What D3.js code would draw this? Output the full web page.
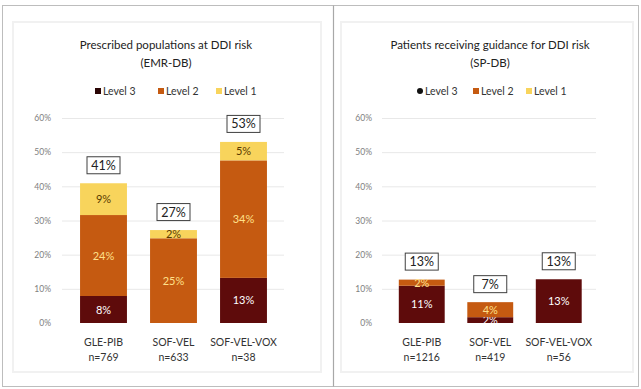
<!DOCTYPE html>
<html><head><meta charset="utf-8">
<script src="https://cdn.jsdelivr.net/npm/d3@7/dist/d3.min.js"></script>
<style>
body{margin:0;background:#fff;}
svg{display:block;font-family:Lato,"Open Sans",sans-serif;}
</style></head><body>
<svg id="c" width="641" height="389"></svg>
<script>
const categoriesA = ["GLE-PIB", "SOF-VEL", "SOF-VEL-VOX"];
const nA = ["n=769", "n=633", "n=38"];
const level3A = [7.9, 0, 13.2];
const level2A = [23.7, 24.8, 34.4];
const level1A = [9.3, 2.4, 5.4];
const totalsA = [41, 27, 53];

const categoriesB = ["GLE-PIB", "SOF-VEL", "SOF-VEL-VOX"];
const nB = ["n=1216", "n=419", "n=56"];
const level3B = [10.9, 1.7, 12.8];
const level2B = [1.8, 4.4, 0];
const level1B = [0, 0, 0];
const totalsB = [13, 7, 13];

const yTicks = [0, 10, 20, 30, 40, 50, 60];
const levelNames = ["Level 3", "Level 2", "Level 1"];
const colors = {"Level 3": "#5e0b0b", "Level 2": "#c55a11", "Level 1": "#f8d45c"};
const labelColors = {"Level 3": "#ffffff", "Level 2": "#ffe08a", "Level 1": "#5a3a00"};

const svg = d3.select("#c");
// outer frame and divider
svg.append("rect").attr("x", 2.5).attr("y", 5.5).attr("width", 636).attr("height", 381)
  .attr("fill", "none").attr("stroke", "#bdbdbd").attr("stroke-width", 1);
svg.append("line").attr("x1", 333.5).attr("x2", 333.5).attr("y1", 5.5).attr("y2", 386.5)
  .attr("stroke", "#a8a8a8").attr("stroke-width", 1.2);

function panel(o) {
  const g = svg.append("g");
  // faint inner shadow box
  g.append("rect").attr("x", o.box[0]).attr("y", o.box[1]).attr("width", o.box[2]).attr("height", o.box[3])
    .attr("fill", "none").attr("stroke", "#f1f1f1").attr("stroke-width", 2);
  g.append("text").attr("x", o.cx).attr("y", 49).attr("text-anchor", "middle")
    .attr("font-size", 11.5).attr("fill", "#222").text(o.title);
  g.append("text").attr("x", o.cx).attr("y", 67).attr("text-anchor", "middle")
    .attr("font-size", 11.5).attr("fill", "#222").text(o.sub);

  const y = d3.scaleLinear().domain([0, 60]).range([323, 118]);
  const x = d3.scaleBand().domain(o.cats).range(o.xr).paddingInner(0.33).paddingOuter(0.165);

  // grid
  g.append("g").selectAll("line").data(yTicks.filter(d => d > 0)).join("line")
    .attr("x1", o.gx[0]).attr("x2", o.gx[1]).attr("y1", d => y(d) + 0.5).attr("y2", d => y(d) + 0.5)
    .attr("stroke", "#e8e8e8").attr("stroke-width", 1);

  const yAxis = g.append("g").attr("transform", `translate(${o.axisX},0)`)
    .call(d3.axisLeft(y).tickValues(yTicks).tickFormat(d => d + "%").tickSize(0).tickPadding(0));
  yAxis.select(".domain").remove();
  yAxis.selectAll("text").attr("font-size", 8.5).attr("fill", "#808080").attr("font-family", "Lato,'Open Sans',sans-serif");

  const rows = o.cats.map((c, i) => ({cat: c, "Level 3": o.l3[i], "Level 2": o.l2[i], "Level 1": o.l1[i]}));
  const stack = d3.stack().keys(levelNames)(rows);
  const bw = x.bandwidth();
  stack.forEach(s => {
    const key = s.key;
    const gg = g.append("g");
    gg.selectAll("rect").data(s).join("rect")
      .attr("x", d => x(d.data.cat)).attr("width", bw)
      .attr("y", d => y(d[1])).attr("height", d => y(d[0]) - y(d[1]))
      .attr("fill", colors[key]);
    gg.selectAll("text").data(s.filter(d => d[1] - d[0] > 0.5)).join("text")
      .attr("x", d => x(d.data.cat) + bw / 2)
      .attr("y", d => (y(d[0]) + y(d[1])) / 2 + 4)
      .attr("text-anchor", "middle").attr("font-size", 11)
      .attr("fill", labelColors[key])
      .text(d => Math.round(d[1] - d[0]) + "%");
  });

  // totals boxes
  const tg = g.append("g");
  rows.forEach((r, i) => {
    const top = r["Level 3"] + r["Level 2"] + r["Level 1"];
    const cx = x(r.cat) + bw / 2, cy = y(top) - 18;
    tg.append("rect").attr("x", cx - 16.5).attr("y", cy - 8.5).attr("width", 33).attr("height", 17)
      .attr("fill", "#fff").attr("stroke", "#404040").attr("stroke-width", 1);
    tg.append("text").attr("x", cx).attr("y", cy + 4.5).attr("text-anchor", "middle")
      .attr("font-size", 12.5).attr("fill", "#222").text(o.totals[i] + "%");
  });

  // categories
  const cg = g.append("g");
  o.cats.forEach((c, i) => {
    const cx = x(c) + bw / 2;
    cg.append("text").attr("x", cx).attr("y", 346).attr("text-anchor", "middle")
      .attr("font-size", 10.5).attr("fill", "#333").text(c);
    cg.append("text").attr("x", cx).attr("y", 361).attr("text-anchor", "middle")
      .attr("font-size", 10.5).attr("fill", "#333").text(o.ns[i]);
  });

  // legend
  const lg = g.append("g");
  levelNames.forEach((k, i) => {
    const lx = o.legX[i];
    if (o.dotFirst && i === 0) {
      lg.append("circle").attr("cx", lx + 3).attr("cy", 91).attr("r", 3).attr("fill", "#111");
    } else {
      lg.append("rect").attr("x", lx).attr("y", 88).attr("width", 6).attr("height", 6).attr("fill", k === "Level 3" ? "#2a0505" : colors[k]);
    }
    lg.append("text").attr("x", lx + 8).attr("y", 95).attr("font-size", 10.5).attr("fill", "#333").text(k);
  });
}

panel({cats: categoriesA, ns: nA, l3: level3A, l2: level2A, l1: level1A, totals: totalsA,
  title: "Prescribed populations at DDI risk", sub: "(EMR-DB)", cx: 166,
  xr: [68.5, 278.5], gx: [62, 284], axisX: 51, legX: [95, 158, 216], dotFirst: false,
  box: [13, 22, 308, 350]});
panel({cats: categoriesB, ns: nB, l3: level3B, l2: level2B, l1: level1B, totals: totalsB,
  title: "Patients receiving guidance for DDI risk", sub: "(SP-DB)", cx: 490,
  xr: [387.5, 593], gx: [382, 596], axisX: 372, legX: [417, 473, 526], dotFirst: true,
  box: [341, 22, 292, 350]});
</script>
</body></html>
